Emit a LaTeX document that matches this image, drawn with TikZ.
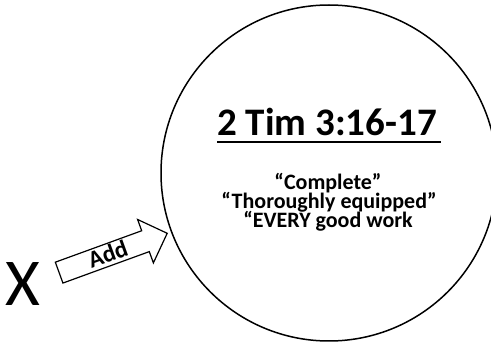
\documentclass[tikz,border=0pt]{standalone}
\usepackage{fontspec}
\setmainfont{Carlito}
\usetikzlibrary{shapes.arrows}
\tikzset{
  bodytext/.style={anchor=base, inner sep=0pt, font=\bfseries\fontsize{22}{22}\selectfont},
  blockarrow/.style={draw, line width=1.2pt, single arrow, single arrow head extend=12pt,
    minimum height=115pt, text height=16pt, text depth=1pt, inner ysep=2pt, inner xsep=2pt,
    font=\bfseries\fontsize{24}{24}\selectfont}
}
\begin{document}
\begin{tikzpicture}[x=1pt,y=-1pt]
\useasboundingbox (0,0) rectangle (491,342);
\node[draw, circle, line width=1.5pt, minimum size=336pt, inner sep=0pt] (circ) at (329,173) {};
\node[anchor=base, inner sep=0pt, font=\bfseries\fontsize{39}{39}\selectfont] (title) at (327,136) {2 Tim 3:16-17};
\draw[line width=2.5pt] ([yshift=-6pt]title.base west) -- ([yshift=-6pt,xshift=4pt]title.base east);
\node[bodytext] (l1) at (328,190) {“Complete”};
\node[bodytext] (l2) at (329,209) {“Thoroughly equipped”};
\node[bodytext] (l3) at (328,228) {“EVERY good work};
\node[anchor=base, inner sep=0pt, font=\fontsize{67}{67}\selectfont] (x) at (23,306) {X};
\node[blockarrow, rotate=20, anchor=tip] (add) at (168,233) {Add};
\end{tikzpicture}
\end{document}
